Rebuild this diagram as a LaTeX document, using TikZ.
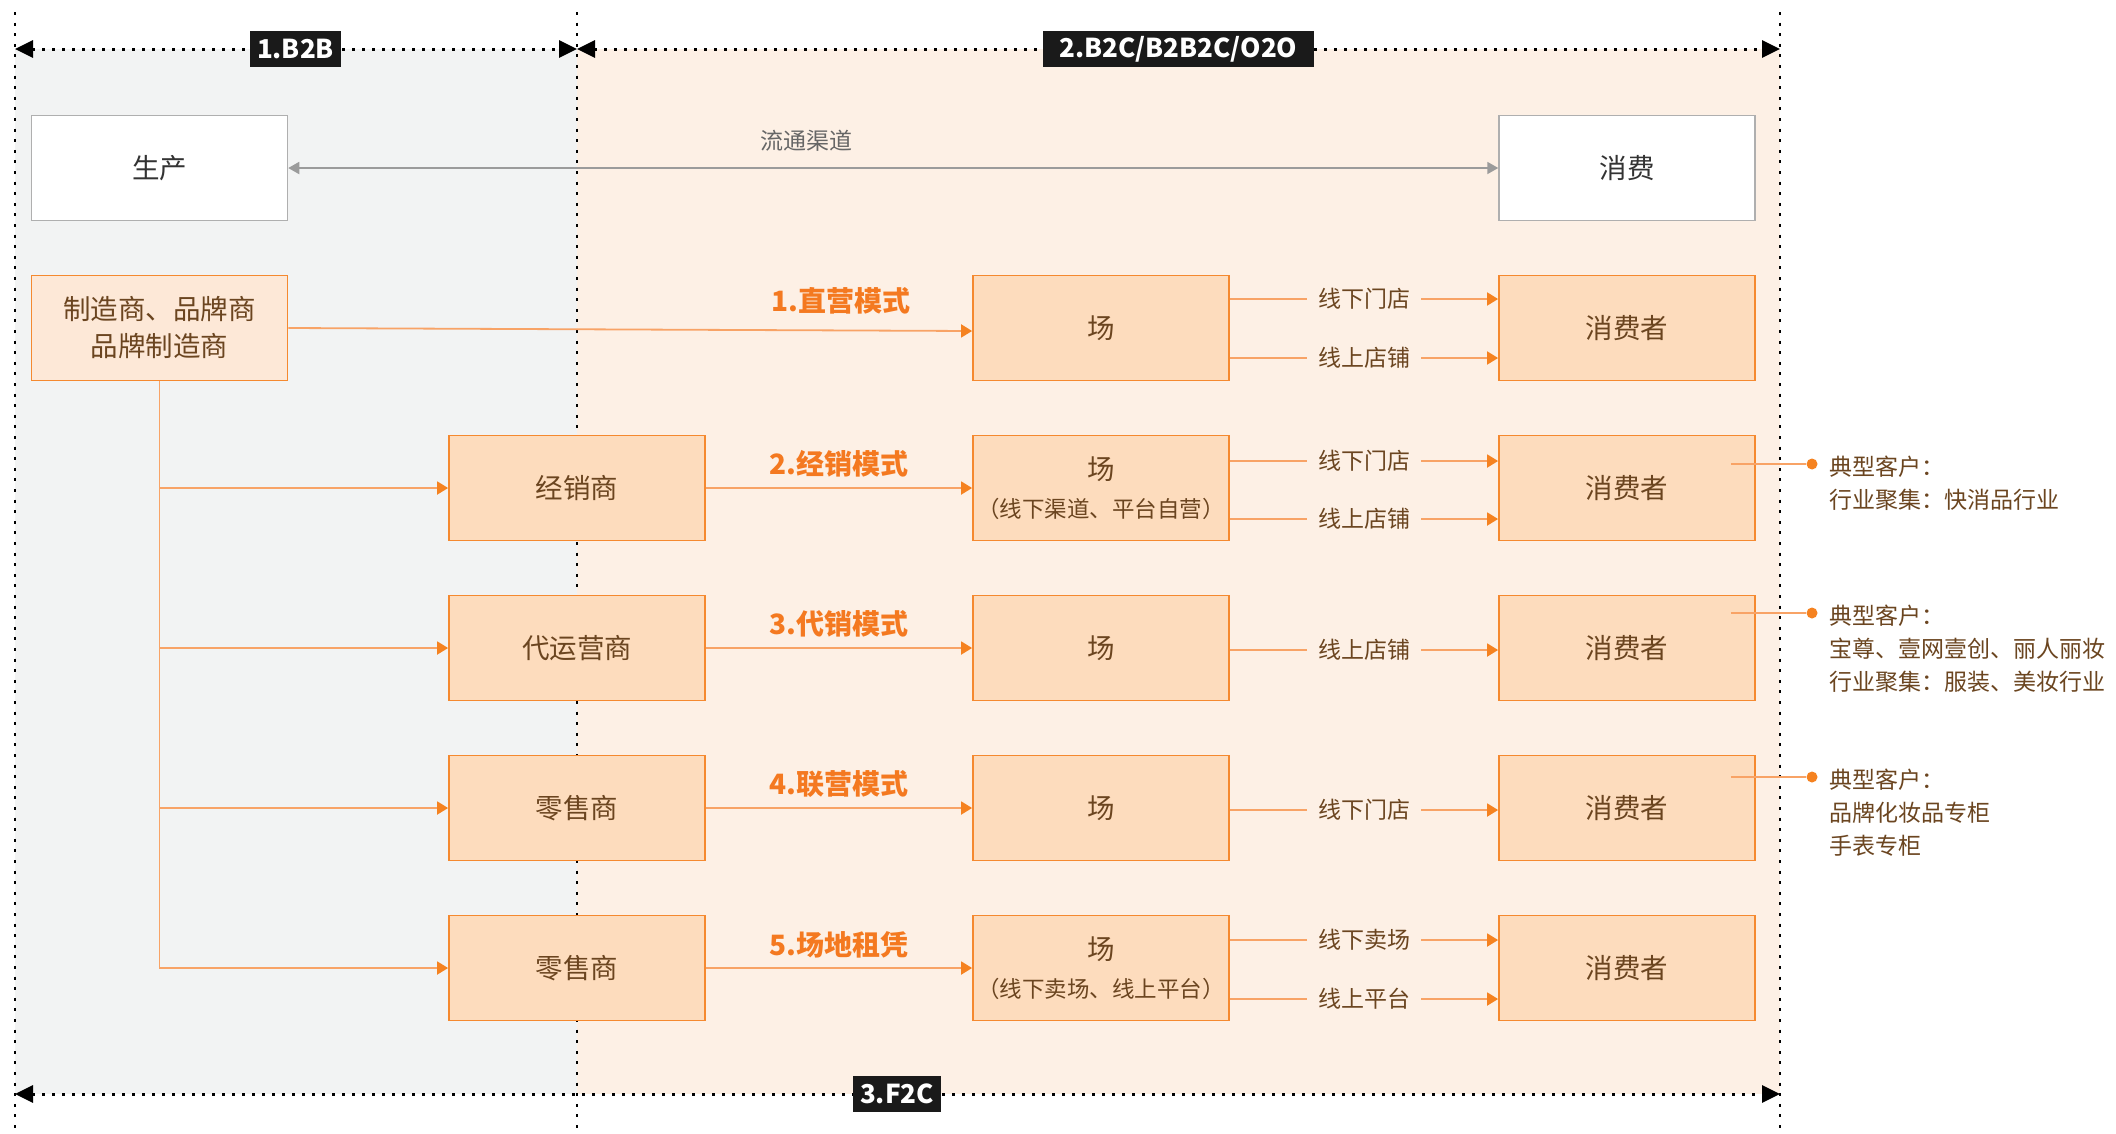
\documentclass[tikz,border=0pt]{standalone}
\usepackage{fontspec}
\setmainfont{Noto Sans CJK SC}
\usetikzlibrary{arrows.meta}
\definecolor{grayBg}{HTML}{F2F3F3}
\definecolor{peachBg}{HTML}{FDF0E5}
\definecolor{boxFill}{HTML}{FDDCBD}
\definecolor{boxFillL}{HTML}{FDE8D7}
\definecolor{boxLine}{HTML}{F5892F}
\definecolor{connLine}{HTML}{F8A366}
\definecolor{tipOrange}{HTML}{F58220}
\definecolor{txtBrown}{HTML}{6B4520}
\definecolor{modeOrange}{HTML}{F47920}
\definecolor{lineGray}{HTML}{9B9B9B}
\definecolor{tagBlack}{HTML}{1A1A1A}
\begin{document}
\begin{tikzpicture}[x=1pt,y=-1pt,
  box/.style={draw=boxLine, fill=boxFill, line width=1.8pt, minimum width=256pt, minimum height=105pt, inner sep=0pt, text=txtBrown, font=\fontsize{27.5}{37}\selectfont, align=center},
  wbox/.style={draw=lineGray!80, fill=white, line width=1.5pt, minimum width=256pt, minimum height=105pt, inner sep=0pt, text=black!80, font=\fontsize{27.5}{37}\selectfont},
  conn/.style={draw=connLine, line width=1.8pt, -{Triangle[length=11pt,width=13pt,color=tipOrange]}},
  oline/.style={draw=connLine, line width=1.8pt},
  gline/.style={draw=lineGray, line width=1.8pt},
  mode/.style={text=modeOrange, font=\bfseries\fontsize{28}{32}\selectfont, inner sep=0pt},
  chan/.style={fill=peachBg, text=txtBrown, font=\fontsize{23}{28}\selectfont, inner xsep=11pt, inner ysep=4pt},
  tagbox/.style={fill=tagBlack, text=white, font=\bfseries\fontsize{26}{30}\selectfont, minimum height=36pt, inner sep=0pt},
  note/.style={text=txtBrown, font=\fontsize{23}{33}\selectfont, align=left, anchor=north west, inner sep=0pt},
  dotnode/.style={circle, fill=tipOrange, inner sep=0pt, minimum size=11pt},
  hdot/.style={draw=black, line width=3pt, dash pattern=on 3pt off 7pt},
  vdot/.style={draw=black, line width=2.6pt, dash pattern=on 3pt off 7.6pt},
  dimtip/.style={{Triangle[length=18pt,width=17pt,color=black]}-{Triangle[length=18pt,width=17pt,color=black]}}
]
\useasboundingbox (0,0) rectangle (2116,1133);
\fill[white] (0,0) rectangle (2116,1133);
\fill[grayBg] (15,49) rectangle (577,1094);
\fill[peachBg] (577,49) rectangle (1780,1094);

% vertical dotted lines
\coordinate (vlt) at (15,12);   \coordinate (vlb) at (15,1133);
\coordinate (vmt) at (577,12);  \coordinate (vmb) at (577,1133);
\coordinate (vrt) at (1780,12); \coordinate (vrb) at (1780,1133);
\draw[vdot] (vlt) -- (vlb);
\draw[vdot] (vmt) -- (vmb);
\draw[vdot] (vrt) -- (vrb);

% dimension arrows
\coordinate (tl) at (15,49); \coordinate (tm) at (577,49); \coordinate (tr) at (1780,49);
\coordinate (bl) at (15,1094); \coordinate (br) at (1780,1094);
\draw[hdot, dimtip] (tl) -- (tm);
\draw[hdot, dimtip] (tm) -- (tr);
\draw[hdot, dimtip] (bl) -- (br);
\node[tagbox, minimum width=91pt] (t1) at (295.5,49) {1.B2B};
\node[tagbox, minimum width=271pt] (t2) at (1178.5,49) {2.B2C/B2B2C/O2O};
\node[tagbox, minimum width=88pt] (t3) at (897,1094) {3.F2C};

% top boxes
\node[wbox] (sc) at (159.5,168) {生产};
\node[wbox] (xf) at (1627,168) {消费};
\draw[gline, {Triangle[length=11pt,width=12pt]}-{Triangle[length=11pt,width=12pt]}] (sc.east) -- node[pos=0.428, yshift=27pt, text=black!60, font=\fontsize{23}{28}\selectfont] {流通渠道} (xf.west);

% boxes
\node[box, fill=boxFillL] (zs) at (159.5,328) {\raisebox{-3pt}{制造商、品牌商}\\\raisebox{-3pt}{品牌制造商}};
\node[box] (c1) at (1101,328) {场};
\node[box] (d1) at (1627,328) {消费者};

\node[box] (b2) at (577,488) {经销商};
\node[box] (c2) at (1101,488) {场\\[1pt]{\fontsize{22.5}{26}\selectfont （线下渠道、平台自营）}};
\node[box] (d2) at (1627,488) {消费者};

\node[box] (b3) at (577,648) {代运营商};
\node[box] (c3) at (1101,648) {场};
\node[box] (d3) at (1627,648) {消费者};

\node[box] (b4) at (577,808) {零售商};
\node[box] (c4) at (1101,808) {场};
\node[box] (d4) at (1627,808) {消费者};

\node[box] (b5) at (577,968) {零售商};
\node[box] (c5) at (1101,968) {场\\[1pt]{\fontsize{22.5}{26}\selectfont （线下卖场、线上平台）}};
\node[box] (d5) at (1627,968) {消费者};

% trunk and branches
\draw[conn] (zs.east) -- node[mode, pos=0.808, yshift=30pt] {1.直营模式} ([yshift=-3pt]c1.west);
\draw[oline] (zs.south) -- (zs.south |- b5.west);
\draw[conn] (zs.south) |- (b2.west);
\draw[conn] (zs.south) |- (b3.west);
\draw[conn] (zs.south) |- (b4.west);
\draw[conn] (zs.south) |- (b5.west);

\draw[conn] (b2.east) -- node[mode, midway, yshift=24pt] {2.经销模式} (c2.west);
\draw[conn] (b3.east) -- node[mode, midway, yshift=24pt] {3.代销模式} (c3.west);
\draw[conn] (b4.east) -- node[mode, midway, yshift=24pt] {4.联营模式} (c4.west);
\draw[conn] (b5.east) -- node[mode, midway, yshift=23pt] {5.场地租凭} (c5.west);

% channels
\draw[conn] ([yshift=29pt]c1.east) -- node[chan] {线下门店} ([yshift=29pt]d1.west);
\draw[conn] ([yshift=-30pt]c1.east) -- node[chan] {线上店铺} ([yshift=-30pt]d1.west);
\draw[conn] ([yshift=27pt]c2.east) -- node[chan] {线下门店} ([yshift=27pt]d2.west);
\draw[conn] ([yshift=-31pt]c2.east) -- node[chan] {线上店铺} ([yshift=-31pt]d2.west);
\draw[conn] ([yshift=-2pt]c3.east) -- node[chan] {线上店铺} ([yshift=-2pt]d3.west);
\draw[conn] ([yshift=-2pt]c4.east) -- node[chan] {线下门店} ([yshift=-2pt]d4.west);
\draw[conn] ([yshift=28pt]c5.east) -- node[chan] {线下卖场} ([yshift=28pt]d5.west);
\draw[conn] ([yshift=-31pt]c5.east) -- node[chan] {线上平台} ([yshift=-31pt]d5.west);

% customer notes
\node[dotnode] (p2) at (1812,464) {};
\node[dotnode] (p3) at (1812,613) {};
\node[dotnode] (p4) at (1812,777) {};
\draw[oline] ([xshift=-25pt,yshift=24pt]d2.east) -- (p2);
\draw[oline] ([xshift=-25pt,yshift=35pt]d3.east) -- (p3);
\draw[oline] ([xshift=-25pt,yshift=31pt]d4.east) -- (p4);
\node[note] (n2) at (1829,456) {典型客户：\\行业聚集：快消品行业};
\node[note] (n3) at (1829,605) {典型客户：\\宝尊、壹网壹创、丽人丽妆\\行业聚集：服装、美妆行业};
\node[note] (n4) at (1829,769) {典型客户：\\品牌化妆品专柜\\手表专柜};
\end{tikzpicture}
\end{document}
